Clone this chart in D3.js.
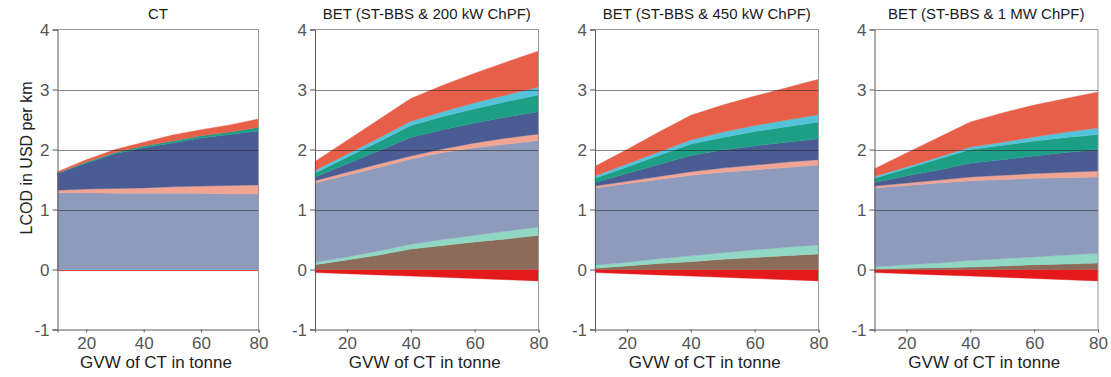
<!DOCTYPE html>
<html>
<head>
<meta charset="utf-8">
<script src="https://cdn.jsdelivr.net/npm/d3@7"></script>
<style>
	body { margin: 0; background: #fff; }
	svg { display: block; font-family: 'Liberation Sans', Arial, sans-serif; }
</style>
</head>
<body>
<div id="chart"></div>
<script>

// GVW of the conventional truck, tonne
const gvw = [10, 20, 30, 40, 50, 60, 70, 80];

// stacking order, bottom to top (negative layer first)
const layerKeys = ['credit', 'brown', 'lightTeal', 'slate', 'salmon', 'darkBlue', 'green', 'lightBlue', 'orangeRed'];

const layerColors = {
	credit: '#e3191b',
	brown: '#8b6b59',
	lightTeal: '#90d8c4',
	slate: '#8e9bbd',
	salmon: '#f2a493',
	darkBlue: '#4b5b93',
	green: '#1d9f86',
	lightBlue: '#54c2d8',
	orangeRed: '#e85f49',
};

const panelTitles = ['CT', 'BET (ST-BBS & 200 kW ChPF)', 'BET (ST-BBS & 450 kW ChPF)', 'BET (ST-BBS & 1 MW ChPF)'];

const yTicks = [-1, 0, 1, 2, 3, 4];
const xTicks = [20, 40, 60, 80];
const gridValues = [1, 2, 3];

// rows follow layerKeys, values in USD per km
const valuesCT = [
	[-0.02, -0.02, -0.02, -0.02, -0.02, -0.02, -0.02, -0.02],
	[0, 0, 0, 0, 0, 0, 0, 0],
	[0, 0, 0, 0, 0, 0, 0, 0],
	[1.28, 1.28, 1.27, 1.27, 1.27, 1.27, 1.26, 1.26],
	[0.04, 0.06, 0.08, 0.09, 0.11, 0.12, 0.14, 0.15],
	[0.28, 0.43, 0.58, 0.67, 0.73, 0.80, 0.85, 0.90],
	[0.01, 0.02, 0.02, 0.03, 0.03, 0.04, 0.04, 0.06],
	[0, 0, 0, 0, 0, 0, 0, 0],
	[0.02, 0.04, 0.05, 0.06, 0.10, 0.10, 0.12, 0.14],
];

const values200kW = [
	[-0.05, -0.07, -0.09, -0.11, -0.13, -0.15, -0.17, -0.19],
	[0.08, 0.16, 0.24, 0.34, 0.40, 0.46, 0.51, 0.57],
	[0.04, 0.05, 0.07, 0.08, 0.10, 0.11, 0.13, 0.14],
	[1.32, 1.36, 1.39, 1.42, 1.45, 1.46, 1.45, 1.44],
	[0.04, 0.05, 0.06, 0.05, 0.06, 0.08, 0.10, 0.11],
	[0.06, 0.14, 0.22, 0.31, 0.32, 0.33, 0.35, 0.37],
	[0.07, 0.11, 0.15, 0.20, 0.22, 0.24, 0.26, 0.28],
	[0.04, 0.05, 0.06, 0.07, 0.08, 0.10, 0.11, 0.13],
	[0.15, 0.23, 0.31, 0.38, 0.44, 0.49, 0.55, 0.60],
];

const values450kW = [
	[-0.05, -0.07, -0.09, -0.11, -0.13, -0.15, -0.17, -0.19],
	[0.02, 0.06, 0.10, 0.13, 0.17, 0.20, 0.23, 0.26],
	[0.05, 0.06, 0.08, 0.10, 0.11, 0.13, 0.14, 0.15],
	[1.29, 1.31, 1.32, 1.34, 1.34, 1.33, 1.33, 1.33],
	[0.03, 0.04, 0.05, 0.06, 0.07, 0.08, 0.09, 0.09],
	[0.06, 0.13, 0.20, 0.27, 0.30, 0.32, 0.33, 0.35],
	[0.07, 0.11, 0.15, 0.19, 0.21, 0.24, 0.26, 0.28],
	[0.04, 0.05, 0.06, 0.07, 0.09, 0.10, 0.11, 0.12],
	[0.16, 0.24, 0.33, 0.41, 0.45, 0.49, 0.54, 0.59],
];

const values1MW = [
	[-0.05, -0.07, -0.09, -0.11, -0.13, -0.15, -0.17, -0.19],
	[0.01, 0.02, 0.03, 0.04, 0.06, 0.08, 0.09, 0.11],
	[0.03, 0.06, 0.08, 0.11, 0.12, 0.13, 0.15, 0.16],
	[1.32, 1.32, 1.33, 1.33, 1.32, 1.31, 1.29, 1.27],
	[0.03, 0.04, 0.05, 0.06, 0.07, 0.08, 0.09, 0.10],
	[0.06, 0.12, 0.17, 0.23, 0.26, 0.29, 0.33, 0.36],
	[0.07, 0.12, 0.18, 0.23, 0.24, 0.25, 0.25, 0.25],
	[0.03, 0.03, 0.03, 0.04, 0.05, 0.07, 0.09, 0.11],
	[0.13, 0.23, 0.33, 0.42, 0.49, 0.53, 0.56, 0.60],
];

const panelValues = [valuesCT, values200kW, values450kW, values1MW];

// layout
const width = 1111;
const height = 377;
const plotTop = 29.5;
const plotBottom = 329.5;
const panelLefts = [57.5, 315, 595, 874.5];
const panelWidths = [201, 223.5, 223.5, 223.5];
const fontFamily = "'Liberation Sans', Arial, sans-serif";

const svg = d3.select('#chart')
	.append('svg')
	.attr('width', width)
	.attr('height', height);

const y = d3.scaleLinear().domain([-1, 4]).range([plotBottom, plotTop]);

const stack = d3.stack()
	.keys(layerKeys)
	.offset(d3.stackOffsetDiverging);

const toRows = (values) => gvw.map((g, i) => {
	const row = {gvw: g};
	layerKeys.forEach((k, j) => { row[k] = values[j][i]; });
	return row;
});

panelValues.forEach((values, p) => {
	const left = panelLefts[p];
	const w = panelWidths[p];
	const x = d3.scaleLinear().domain([10, 80]).range([left, left + w]);

	const g = svg.append('g');

	const area = d3.area()
		.x(d => x(d.data.gvw))
		.y0(d => y(d[0]))
		.y1(d => y(d[1]));

	g.selectAll('path.layer')
		.data(stack(toRows(values)))
		.join('path')
		.attr('class', 'layer')
		.attr('d', area)
		.attr('fill', d => layerColors[d.key])
		.attr('stroke', d => layerColors[d.key])
		.attr('stroke-width', 0.4);

	// grid lines sit over the areas
	g.selectAll('line.grid')
		.data(gridValues)
		.join('line')
		.attr('class', 'grid')
		.attr('x1', left)
		.attr('x2', left + w)
		.attr('y1', d => Math.round(y(d)) + 0.5)
		.attr('y2', d => Math.round(y(d)) + 0.5)
		.attr('stroke', '#222')
		.attr('stroke-opacity', 0.55);

	// top and right frame
	g.append('path')
		.attr('d', `M${left},${y(4)}H${left + w}V${y(-1)}`)
		.attr('fill', 'none')
		.attr('stroke', '#9a9a9a');

	const yAxis = g.append('g')
		.attr('transform', `translate(${left},0)`)
		.call(d3.axisLeft(y).tickValues(yTicks).tickSize(5).tickPadding(3).tickFormat(d => String(d)));

	const xAxis = g.append('g')
		.attr('transform', `translate(0,${y(-1)})`)
		.call(d3.axisBottom(x).tickValues(xTicks).tickSize(3).tickPadding(4));

	[yAxis, xAxis].forEach(ax => {
		ax.select('.domain').attr('stroke', '#5a5a5a');
		ax.selectAll('.tick line').attr('stroke', '#5a5a5a');
		ax.selectAll('.tick text')
			.attr('fill', '#555')
			.style('font-size', '17px')
			.style('font-family', fontFamily);
	});
	yAxis.selectAll('.tick text').attr('dy', '0.36em');

	g.append('text')
		.attr('x', left + w / 2)
		.attr('y', 19)
		.attr('text-anchor', 'middle')
		.attr('fill', '#1a1a1a')
		.style('font-size', '15px')
		.text(panelTitles[p]);

	g.append('text')
		.attr('x', left + w / 2 - 2)
		.attr('y', 368)
		.attr('text-anchor', 'middle')
		.attr('fill', '#222')
		.style('font-size', '17px')
		.text('GVW of CT in tonne');
});

svg.append('text')
	.attr('transform', 'translate(32,158) rotate(-90)')
	.attr('text-anchor', 'middle')
	.attr('fill', '#222')
	.style('font-size', '16px')
	.text('LCOD in USD per km');

</script>
</body>
</html>
